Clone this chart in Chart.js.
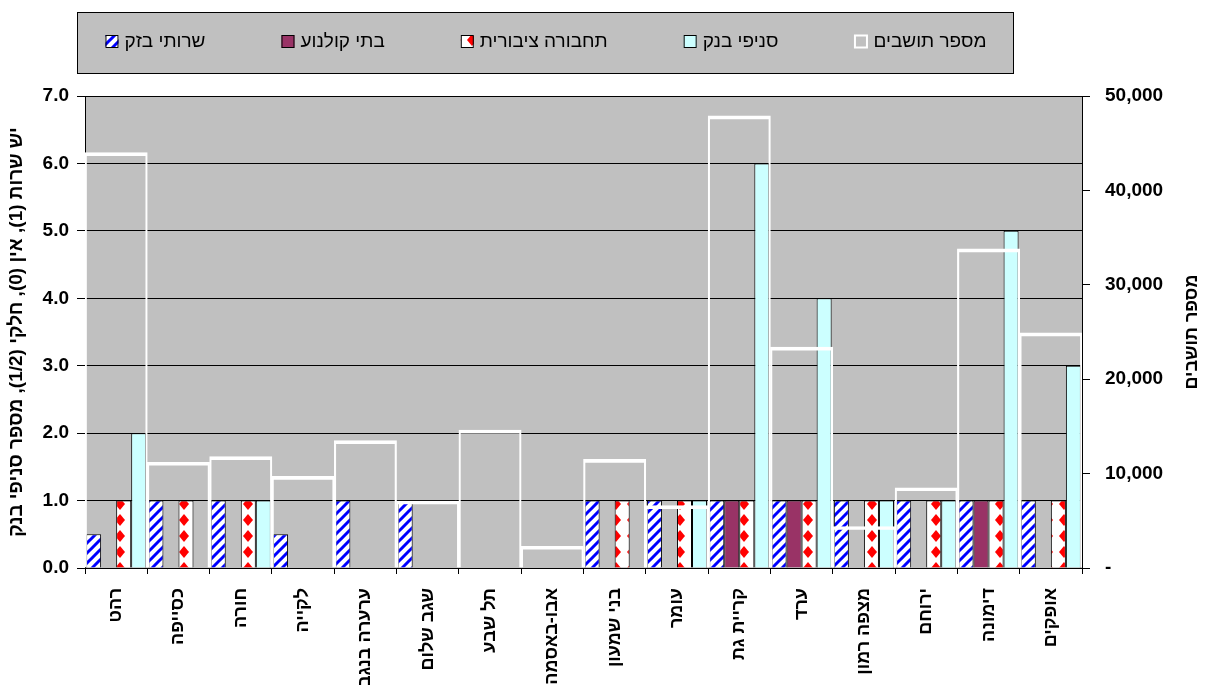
<!DOCTYPE html>
<html lang="he">
<head>
<meta charset="utf-8">
<title>שירותים ביישובי הנגב</title>
<script src="https://cdn.jsdelivr.net/npm/chart.js@4.4.1/dist/chart.umd.min.js"></script>
<style>
  html, body { margin: 0; padding: 0; background: #fff; }
  #wrap { width: 1208px; height: 685px; position: relative; }
</style>
</head>
<body>
<div id="wrap"><canvas id="chart" dir="rtl"></canvas></div>
<script>
// יישובים
const categories = ['רהט', 'כסייפה', 'חורה', 'לקייה', 'ערערה בנגב', 'שגב שלום', 'תל שבע', 'אבו-באסמה',
  'בני שמעון', 'עומר', 'קריית גת', 'ערד', 'מצפה רמון', 'ירוחם', 'דימונה', 'אופקים'];

// יש שרות (1), אין (0), חלקי (1/2)
const telecom = [0.5, 1, 1, 0.5, 1, 1, 0, 0, 1, 1, 1, 1, 1, 1, 1, 1];
const cinemas = [0, 0, 0, 0, 0, 0, 0, 0, 0, 0, 1, 1, 0, 0, 1, 0];
const transport = [1, 1, 1, 0, 0, 0, 0, 0, 1, 1, 1, 1, 1, 1, 1, 1];
// מספר סניפי בנק
const bankBranches = [2, 0, 1, 0, 0, 0, 0, 0, 0, 1, 6, 4, 1, 1, 5, 3];
// מספר תושבים
const population = [44000, 11200, 11800, 9700, 13500, 7100, 14600, 2300,
  11500, 6600, 47900, 23400, 4400, 8500, 33800, 24900];

const leftTickLabels = ['0.0', '1.0', '2.0', '3.0', '4.0', '5.0', '6.0', '7.0'];
const rightTickLabels = ['-', '10,000', '20,000', '30,000', '40,000', '50,000'];

const leftTitle = 'יש שרות (1), אין (0), חלקי (1/2), מספר סניפי בנק';
const rightTitle = 'מספר תושבים';

const FONT = '"Liberation Sans", Arial, sans-serif';

// דוגמת פסים כחולים
function stripePattern() {
  const c = document.createElement('canvas');
  c.width = 10; c.height = 10;
  const g = c.getContext('2d');
  g.fillStyle = '#fff';
  g.fillRect(0, 0, 10, 10);
  g.strokeStyle = '#0000ff';
  g.lineWidth = 3;
  g.beginPath();
  g.moveTo(-5, 5); g.lineTo(5, -5);
  g.moveTo(-2, 12); g.lineTo(12, -2);
  g.moveTo(5, 15); g.lineTo(15, 5);
  g.stroke();
  return g.createPattern(c, 'repeat');
}

// דוגמת מעוינים אדומים
function diamondPattern() {
  const c = document.createElement('canvas');
  c.width = 16; c.height = 16;
  const g = c.getContext('2d');
  g.fillStyle = '#fff';
  g.fillRect(0, 0, 16, 16);
  g.fillStyle = '#ff0000';
  g.beginPath();
  g.moveTo(8, 2); g.lineTo(13, 8); g.lineTo(8, 14); g.lineTo(3, 8);
  g.closePath();
  g.fill();
  return g.createPattern(c, 'repeat');
}

// רקע אפור לשטח הגרף, מקרא במסגרת וכותרת הציר הימני
const frame = {
  id: 'frame',
  beforeDraw(chart) {
    const { ctx, chartArea: a } = chart;
    ctx.save();
    ctx.fillStyle = '#c0c0c0';
    ctx.fillRect(a.left, a.top, a.right - a.left, a.bottom - a.top);

    ctx.fillRect(77, 12, 936, 61);
    ctx.strokeStyle = '#000';
    ctx.lineWidth = 1;
    ctx.strokeRect(77.5, 12.5, 936, 61);

    ctx.font = '19px ' + FONT;
    ctx.textBaseline = 'middle';
    ctx.textAlign = 'left';
    const items = chart.data.datasets;
    const box = 13, space = 6, gap = 76;
    const widths = items.map(d => ctx.measureText(d.label).width);
    const total = widths.reduce((s, w) => s + box + space + w, 0) + gap * (items.length - 1);
    let x = 546 - total / 2;
    items.forEach((d, i) => {
      const white = d.borderColor === '#fff';
      ctx.fillStyle = white ? '#c0c0c0' : d.backgroundColor;
      ctx.fillRect(x, 35, box, box);
      ctx.strokeStyle = d.borderColor;
      ctx.lineWidth = white ? 2 : 1;
      ctx.strokeRect(x + 0.5, 35.5, box - 1, box - 1);
      ctx.fillStyle = '#000';
      ctx.fillText(d.label, x + box + space, 42);
      x += box + space + widths[i] + gap;
    });

    ctx.translate(1192, (a.top + a.bottom) / 2);
    ctx.rotate(-Math.PI / 2);
    ctx.textAlign = 'center';
    ctx.font = 'bold 18px ' + FONT;
    ctx.fillText(rightTitle, 0, 0);
    ctx.restore();
  }
};

const ctx = document.getElementById('chart').getContext('2d');

const barStyle = {
  borderColor: '#000',
  borderWidth: 1,
  categoryPercentage: 0.965,
  barPercentage: 1,
  yAxisID: 'y',
  order: 1
};

const data = {
  labels: categories,
  datasets: [
    Object.assign({ label: 'שרותי בזק', data: telecom, backgroundColor: stripePattern() }, barStyle),
    Object.assign({ label: 'בתי קולנוע', data: cinemas, backgroundColor: '#993366' }, barStyle),
    Object.assign({ label: 'תחבורה ציבורית', data: transport, backgroundColor: diamondPattern() }, barStyle),
    Object.assign({ label: 'סניפי בנק', data: bankBranches, backgroundColor: '#ccffff' }, barStyle),
    {
      label: 'מספר תושבים',
      data: population,
      backgroundColor: 'rgba(0,0,0,0)',
      borderColor: '#fff',
      borderWidth: { top: 3, left: 1.5, right: 1.5, bottom: 0 },
      grouped: false,
      categoryPercentage: 1,
      barPercentage: 1,
      yAxisID: 'y2',
      order: 0
    }
  ]
};

const tickFont = { family: FONT, size: 19, weight: 'bold' };

new Chart(ctx, {
  type: 'bar',
  data: data,
  options: {
    responsive: true,
    maintainAspectRatio: false,
    animation: false,
    layout: { padding: { top: 96 } },
    plugins: {
      legend: { display: false },
      tooltip: { enabled: false }
    },
    scales: {
      x: {
        offset: true,
        grid: { offset: true, drawOnChartArea: false, tickLength: 6, color: '#000' },
        border: { color: '#000' },
        ticks: {
          autoSkip: false,
          minRotation: 90,
          maxRotation: 90,
          padding: 14,
          color: '#000',
          font: { family: FONT, size: 18, weight: 'bold' }
        },
        afterFit: s => { s.height = 117; }
      },
      y: {
        position: 'left',
        min: 0,
        max: 7,
        grid: { color: '#000', tickLength: 8 },
        border: { color: '#000' },
        ticks: {
          stepSize: 1,
          padding: 8,
          color: '#000',
          font: tickFont,
          callback: (v, i) => leftTickLabels[i]
        },
        title: {
          display: true,
          text: leftTitle,
          color: '#000',
          font: { family: FONT, size: 19, weight: 'bold' },
          padding: { top: 5, bottom: 0 }
        },
        afterFit: s => { s.width = 85; }
      },
      y2: {
        position: 'right',
        min: 0,
        max: 50000,
        grid: { drawOnChartArea: false, color: '#000', tickLength: 8 },
        border: { color: '#000' },
        ticks: {
          stepSize: 10000,
          padding: 15,
          color: '#000',
          font: tickFont,
          callback: (v, i) => rightTickLabels[i]
        },
        afterFit: s => { s.width = 126; }
      }
    }
  },
  plugins: [frame]
});
</script>
</body>
</html>
